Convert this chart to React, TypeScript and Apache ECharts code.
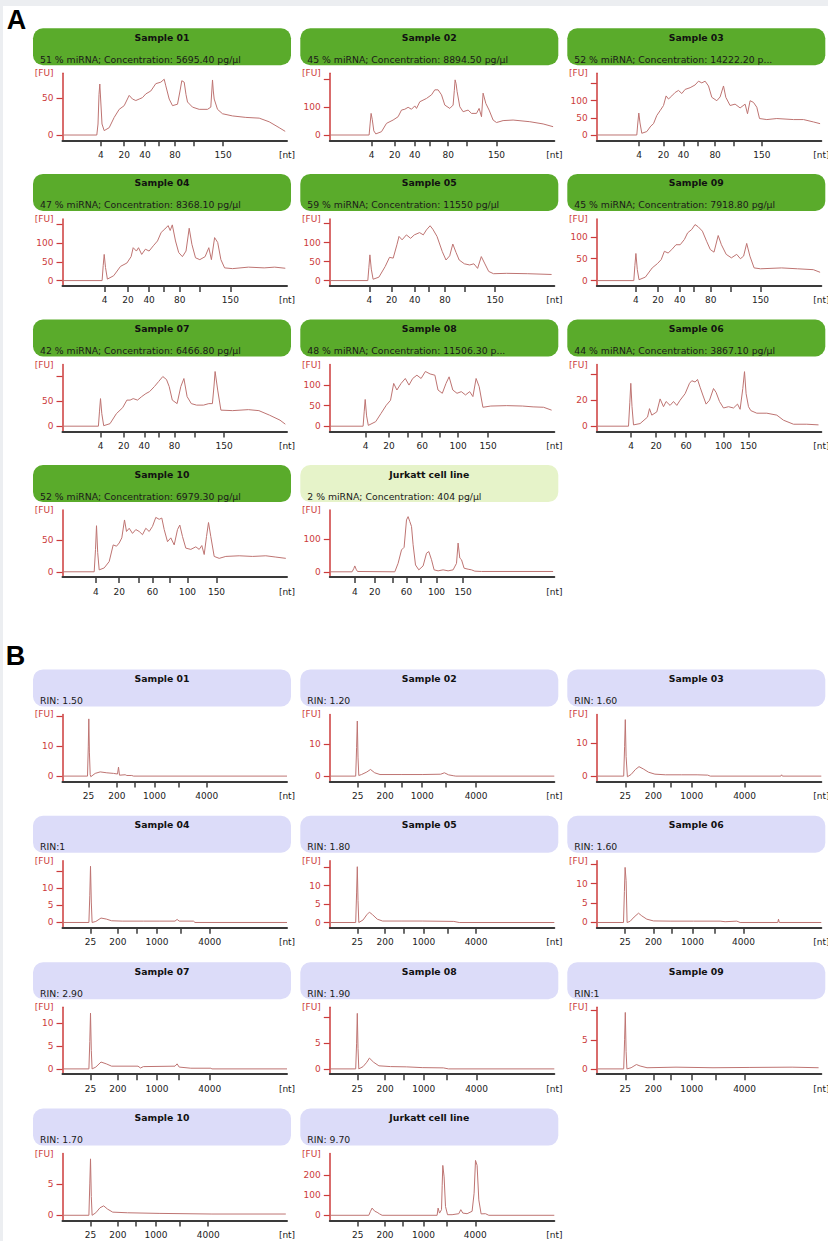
import React, { useEffect, useRef } from 'react';
import * as echarts from 'echarts';

// ---------- Section A (small RNA assay) ----------
const A_TITLES = ['Sample 01', 'Sample 02', 'Sample 03', 'Sample 04', 'Sample 05', 'Sample 09', 'Sample 07', 'Sample 08', 'Sample 06', 'Sample 10', 'Jurkatt cell line'];
const A_SUBTITLES = [
  '51 % miRNA; Concentration: 5695.40 pg/µl',
  '45 % miRNA; Concentration: 8894.50 pg/µl',
  '52 % miRNA; Concentration: 14222.20 p...',
  '47 % miRNA; Concentration: 8368.10 pg/µl',
  '59 % miRNA; Concentration: 11550 pg/µl',
  '45 % miRNA; Concentration: 7918.80 pg/µl',
  '42 % miRNA; Concentration: 6466.80 pg/µl',
  '48 % miRNA; Concentration: 11506.30 p...',
  '44 % miRNA; Concentration: 3867.10 pg/µl',
  '52 % miRNA; Concentration: 6979.30 pg/µl',
  '2 % miRNA; Concentration: 404 pg/µl',
];
const A_X_LABELS_1 = ['4', '20', '40', '', '80', '', '150'];
const A_X_LABELS_2 = ['4', '20', '', '60', '', '100', '150'];
const A_X_LABEL_SET = [1, 1, 1, 1, 1, 1, 1, 2, 2, 2, 2];
const A_X_TICKS = [
  [38.4, 61.7, 82.4, 96, 112.4, 131.7, 160.7],
  [41.7, 65, 85, 100, 118.4, 137.4, 166.7],
  [42.3, 66.6, 86.6, 101, 118.3, 137.3, 165],
  [42.2, 65.5, 86.6, 101.4, 117.2, 137.3, 167.9],
  [39.6, 61.8, 85, 98.7, 115.1, 134.6, 165.3],
  [39.1, 61.2, 82.9, 97.1, 114, 134.1, 163.7],
  [38, 61.2, 81.8, 96.1, 111.9, 132, 161.6],
  [35.9, 59.1, 77.6, 92.4, 109.8, 128.3, 158.4],
  [34.3, 59.3, 78.3, 89.3, 108.3, 126.7, 151.7],
  [33.4, 56.7, 76.7, 90, 107.4, 125, 154],
  [25, 45, 62.7, 76.7, 91, 106.7, 133.3],
];
const A_Y_MAX = [84.1, 222.7, 180, 165, 162, 141, 123, 150, 47.5, 96.4, 189];
const A_Y_MIN = [-7.2, -19.1, -15.5, -14.2, -14, -12.1, -10.6, -12.9, -4.1, -8.3, -16.2];
const A_Y_LABELED = [[0, 50], [0, 100], [0, 50, 100], [0, 50, 100], [0, 50, 100], [0, 50, 100], [0, 50], [0, 50, 100], [0, 20], [0, 50], [0, 100]];
const A_Y_TOP_TICK = [null, 200, 150, 150, 150, null, 100, null, 40, null, null];

// traces: [migration time units, FU]
const A_S01 = [[0,0],[34.3,0],[35.5,15],[36.5,55],[37.3,69.5],[38.3,45],[39.5,15],[41.7,6],[46.7,10],[51.7,24],[56.7,35],[61.7,40],[66.7,54],[70,49],[73.3,47],[76.7,49],[80,51],[83.3,56],[88.3,60],[93.3,70],[98.3,72],[101.7,76],[103.3,67],[106.7,49],[110,40],[115,42],[117.5,60],[119.3,74],[121.7,72],[123.5,55],[125,45],[130,38],[136.7,35],[145,35],[148.3,38],[149.3,60],[150,75],[150.8,60],[151.7,49],[155,35],[160,29],[170,26],[183.3,24],[196.7,23],[206.7,18],[216.7,10],[222.7,5]];
const A_S02 = [[0,0],[39.3,0],[40.3,40],[41.3,78],[42.5,55],[44,15],[46,4],[51.7,12],[56.7,42],[63.3,54],[68.3,66],[71.7,90],[75,93],[78.3,100],[81.7,93],[85,105],[86.7,96],[90,120],[96.7,132],[101.7,145],[105,163],[108.3,163],[111.7,145],[115,108],[120,96],[123.3,108],[124.5,160],[125.3,199],[126.3,185],[127.3,157],[130,102],[133.3,84],[138.3,90],[141.7,78],[146.7,78],[149.3,96],[151.7,66],[153.3,151],[156,114],[159.3,90],[163.3,54],[166.7,45],[173.3,52],[183.3,54],[200,48],[213.3,40],[223.3,30]];
const A_S03 = [[0,0],[40,0],[41,35],[42,64],[43.2,35],[45,5],[50,10],[54,26],[56.7,33],[60,57],[63.3,71],[66.7,86],[69.3,114],[71.7,105],[75,114],[78.3,124],[81.7,130],[85,121],[88.3,133],[93.3,138],[98.3,146],[101.7,157],[105,152],[108.3,157],[111.7,143],[115,110],[120,100],[123.3,111],[126.7,143],[129,110],[133.3,86],[138.3,90],[143.3,79],[148.3,90],[150.7,62],[153.3,100],[156.7,95],[160,81],[162.7,48],[170,45],[180,48],[196.7,45],[206.7,45],[216.7,38],[223.3,33]];
const A_S04 = [[0,0],[39.6,0],[40.7,40],[41.7,70],[43,35],[44.9,4],[51.2,13],[58,38],[64.4,47],[68.6,64],[70.7,88],[73.9,79],[76,88],[79.2,70],[82.9,84],[86.6,79],[90.8,93],[95,106],[98.7,129],[102.4,138],[105.6,147],[107.7,134],[109.8,149],[113,106],[116.2,75],[119.9,64],[123.5,79],[126.7,140],[129.4,97],[133,61],[137.3,56],[142.6,64],[146.3,88],[148.9,56],[152.1,115],[155.2,102],[158.4,56],[162.1,34],[170,32],[185.9,36],[201.7,34],[212.2,36],[222.8,33]];
const A_S05 = [[0,0],[38,0],[39.1,35],[40.1,67.5],[41.5,30],[43.3,3.5],[49.1,9],[55.4,37],[59.7,61],[63.4,59],[67.1,94],[69.2,116],[72.3,107],[76.6,120],[80.8,111],[84.5,120],[89.8,126],[93.5,120],[96.6,133],[100.3,144],[103,135],[107.2,116],[112.5,76],[116.2,54],[119.9,65],[123,96],[126.2,74],[129.4,54],[134.6,44],[139.9,41],[144.1,44],[147.8,32],[151.5,63],[154.7,46],[158.9,24],[163.7,18],[176.9,19],[198,18],[221.8,16]];
const A_S09 = [[0,0],[37,0],[38.1,35],[39.1,62],[40.5,25],[42.2,2],[48.6,8],[55.4,29],[60.7,39],[64.4,48],[67.6,67],[71.3,63],[75,71],[79.2,82],[83.4,82],[87.6,94],[90.8,109],[95,117],[98.2,128],[101.4,123],[105.6,113],[109.8,90],[113.5,71],[117.2,65],[121.4,103],[124.6,82],[129.4,60],[134.6,52],[139.9,60],[143.6,50],[146.8,56],[149.9,85],[153.1,56],[157.3,29],[163.7,27],[184.8,29],[200.6,27],[216.5,25],[223.3,19]];
const A_S07 = [[0,0],[35.9,0],[37,30],[38,55],[39.3,25],[41.2,1],[47.5,5],[53.9,25],[60.2,37],[64.4,52],[67.6,52],[70.7,55],[75,52],[79.2,59],[83.4,65],[87.1,69],[91.9,79],[96.1,89],[100.3,99],[104,93],[106.7,79],[109.8,52],[114.6,45],[118.3,79],[121.4,95],[124.6,59],[128.8,45],[134.1,42],[141,42],[146.3,45],[149.9,45],[151.5,80],[152.6,109],[155.2,72],[158.4,32],[170,31],[185.9,33],[196.4,31],[207,22],[217.5,12],[222.8,4]];
const A_S08 = [[0,0],[33.3,0],[34.4,35],[35.4,65],[36.8,25],[38.5,2],[45.9,11],[51.2,31],[56.5,51],[60.7,63],[63.9,104],[67.1,88],[71.3,104],[75.5,116],[79.2,100],[82.9,116],[87.1,124],[91.3,116],[95.6,133],[100.3,127],[105.1,124],[108.2,88],[112.5,80],[116.2,104],[119.3,120],[123,88],[127.2,80],[131.5,84],[135.7,76],[139.9,84],[143.1,72],[146.3,116],[149.4,96],[153.1,46],[161,49],[176.9,50],[192.7,49],[203.3,47],[213.8,46],[221.8,39]];
const A_S06 = [[0,0],[31.7,0],[33,18],[34,33],[35.2,15],[36.7,1],[43.3,2],[50.7,7],[52.7,13.5],[55,8.5],[60,11],[63.3,21],[66.7,15],[69.3,19],[73.3,16],[76.7,19],[80,16],[83.3,20],[88.3,25],[92.7,33],[95,35],[98.3,34],[100.7,36],[103.3,30],[106,24],[109.3,17],[112.7,20],[116.7,29],[119.3,26],[122.7,19],[126.7,14],[131.7,15],[136.7,14],[140.7,17],[143.3,13],[146,29],[147.7,42],[149.3,25],[151.7,15],[154,12],[160,10],[170,10],[180,8.5],[186.7,4.6],[196.7,1.5],[210,1.5],[221.7,1]];
const A_S10 = [[0,0],[31.7,0],[33,35],[34,72],[35.2,30],[36.7,3],[41.7,6],[46.7,16],[50.7,42],[54,40],[56.7,45],[59.3,53],[62,81],[64,63],[66.7,68],[70,60],[73.3,66],[76.7,63],[80,58],[83.3,68],[86.7,63],[90,71],[93.3,85],[96.7,82],[99.3,84],[101.7,66],[105,47],[108.3,53],[111.7,42],[115,66],[117.3,73],[120,55],[123.3,37],[128.3,35],[133.3,39],[136.7,35],[139.3,41],[141.7,27],[144,55],[146,77],[148.3,55],[151.7,24],[156.7,21],[163.3,24],[176.7,25],[190,24],[203.3,25],[213.3,23],[223.3,21]];
const A_JUR = [[0,0],[22.3,0],[24,10],[25,18],[26.3,8],[27.7,1],[65,0],[68.3,26],[71.7,67],[74.3,75],[76.7,159],[78.3,169],[80,154],[81.7,139],[83.3,83],[85.7,21],[89,6],[93.3,18],[96.7,57],[99,62],[101.7,37],[104.3,6],[108.3,3],[113.3,6],[118.3,3],[123.3,6],[126.7,26],[128.3,88],[130,42],[131.7,37],[134.3,11],[138.3,8],[141.7,6],[145,2],[151.7,1],[223.3,1]];
const A_TRACES = [A_S01, A_S02, A_S03, A_S04, A_S05, A_S09, A_S07, A_S08, A_S06, A_S10, A_JUR];

// ---------- Section B (total RNA assay) ----------
const B_TITLES = ['Sample 01', 'Sample 02', 'Sample 03', 'Sample 04', 'Sample 05', 'Sample 06', 'Sample 07', 'Sample 08', 'Sample 09', 'Sample 10', 'Jurkatt cell line'];
const B_SUBTITLES = ['RIN: 1.50', 'RIN: 1.20', 'RIN: 1.60', 'RIN:1', 'RIN: 1.80', 'RIN: 1.60', 'RIN: 2.90', 'RIN: 1.90', 'RIN:1', 'RIN: 1.70', 'RIN: 9.70'];
const B_X_LABELS = ['25', '200', '', '1000', '', '4000'];
const B_X_TICKS = [
  [26, 54.3, 72, 92, 116, 144.3],
  [28, 55.4, 72.3, 92.4, 116.2, 146.3],
  [28.5, 56.5, 74.4, 95, 118.8, 147.8],
  [28, 55.4, 73.9, 94.5, 118.3, 147.3],
  [27.5, 55.4, 73.9, 94, 117.7, 146.3],
  [28.3, 56.7, 75, 95.7, 118.3, 146.7],
  [28, 55.4, 73.9, 94.5, 116.7, 147.3],
  [27.5, 55.4, 73.9, 94, 116.7, 146.8],
  [28.5, 56.5, 74.4, 95, 118.8, 147.8],
  [28, 55.4, 72.9, 93.5, 117.2, 145.7],
  [28, 55.2, 72.6, 93.7, 117, 145.5],
];
const B_Y_MAX = [20.6, 19.5, 18.9, 18.1, 16.7, 15.9, 13.5, 12.0, 10.6, 9.84, 308];
const B_Y_MIN = [-1.77, -1.67, -1.62, -1.56, -1.43, -1.37, -1.16, -1.03, -0.91, -0.85, -26.5];
const B_Y_LABELED = [[0, 10], [0, 10], [0, 10], [0, 5, 10], [0, 5, 10], [0, 5, 10], [0, 5, 10], [0, 5], [0, 5], [0, 5], [0, 100, 200]];
const B_Y_TOP_TICK = [20, null, null, 15, 15, 15, null, 10, 10, null, null];

const B_S01 = [[0,0],[25,0],[25.8,10],[26.3,19.1],[26.9,8],[27.7,0.5],[28.3,-0.2],[32.7,0.9],[37.7,1.4],[44.3,1.1],[51,0.9],[55,0.7],[56,3],[57,0.3],[62.7,0.45],[64.3,0.2],[69.3,0.2],[71,0],[224.5,0]];
const B_S02 = [[0,0],[25.9,0],[26.8,9],[27.5,17.4],[28.2,6],[29,0.2],[31.7,0.5],[37,1.3],[40.7,2.1],[44.9,1.05],[50.2,0.5],[71.3,0.5],[92.4,0.5],[110.9,0.6],[114.6,1.05],[118.8,0.4],[124,0.1],[126,0],[224.5,0]];
const B_S03 = [[0,0],[26.9,0],[27.8,9],[28.5,17.3],[29.3,6],[30.6,-0.2],[34.3,0.5],[38.5,2],[42.2,2.9],[46.5,2.2],[51.7,1.2],[58.1,0.6],[68.6,0.4],[84.5,0.4],[100.3,0.4],[110.9,0.3],[113.5,0],[184,0],[184.8,0.4],[185.6,0],[224.5,0]];
const B_S04 = [[0,0],[26.4,0],[27.3,8],[28,16.5],[28.8,6],[29.6,0],[33.3,0.3],[38.5,1.3],[43.8,1],[49.1,0.5],[59.7,0.4],[80.8,0.4],[96.6,0.4],[112.5,0.4],[114.6,0.9],[116.7,0.4],[130.9,0.4],[132.5,0],[224.5,0]];
const B_S05 = [[0,0],[25.9,0],[26.8,8],[27.5,15.1],[28.2,6],[29,0],[33.3,0.7],[37,2.1],[39.6,2.8],[42.8,2.1],[47.5,0.9],[52.8,0.4],[71.3,0.4],[92.4,0.4],[124,0.3],[129.4,0],[224.5,0]];
const B_S06 = [[0,0],[26.7,0],[27.6,8],[28.3,14.2],[29.3,10.8],[30.3,0],[33.3,0.3],[37.3,1.4],[41.7,2.4],[45,1.7],[50,0.85],[56.7,0.4],[73.3,0.35],[96.7,0.35],[123.3,0.35],[128.3,0.2],[140,0.35],[143.3,0],[181,0],[181.7,0.85],[182.5,0],[224.5,0]];
const B_S07 = [[0,0],[26.4,0],[27.3,6],[28,12.2],[28.8,4],[29.6,0],[33.3,0.4],[38.5,1.5],[43.8,1.1],[49.1,0.6],[75.5,0.6],[78,0.2],[80.8,0.5],[112.5,0.6],[114.6,1.1],[116.7,0.4],[128.3,0.15],[148.4,0.15],[149.4,0],[224.5,0]];
const B_S08 = [[0,0],[25.9,0],[26.8,5],[27.5,10.8],[28.2,4],[29,0],[33.3,0.45],[37,1.3],[39.6,2.1],[43.8,1.3],[49.1,0.6],[60.7,0.45],[76.6,0.4],[92.4,0.25],[113.5,0.2],[118.8,0],[224.5,0]];
const B_S09 = [[0,0],[26.9,0],[27.8,5],[28.5,9.7],[29.3,3],[30.1,0],[34.3,0.2],[39.6,0.75],[43.3,0.5],[50.2,0.2],[79.2,0.3],[116.2,0.2],[153.1,0.25],[195.3,0.3],[221.8,0.2]];
const B_S10 = [[0,0],[26.4,0],[27.3,5],[28,9],[28.8,3],[29.6,0],[33.3,0.4],[37.5,1.2],[41.2,1.5],[44.9,1],[50.2,0.5],[64.9,0.4],[96.6,0.3],[149.4,0.2],[223.3,0.2]];
const B_JUR = [[0,0],[39,0],[40.7,20],[42.3,36],[45,20],[47.3,15],[49.7,7],[52.3,0],[107.3,0],[108.3,36],[109.7,11],[111.7,28],[112.4,150],[113,249],[114.3,192],[115.7,44],[117.7,3],[122.3,3],[129,8],[131,28],[133,11],[137.3,8],[142.3,20],[144.3,110],[145.7,274],[147.3,249],[149,77],[151.3,7],[155.7,8],[159,0],[224.5,0]];
const B_TRACES = [B_S01, B_S02, B_S03, B_S04, B_S05, B_S06, B_S07, B_S08, B_S09, B_S10, B_JUR];

const X_MAX = 224.5;

// ---------- layout / style ----------
const FONT = '"DejaVu Sans", Verdana, sans-serif';
const COL_X = [33, 300.3, 567.3];
const A_ROW_Y = [28.3, 173.9, 319.5, 465.1];
const B_ROW_Y = [669.4, 815.8, 962.2, 1108.6];
const BOX_W = 258;
const BOX_H = 37;
const GREEN = '#5aab2b';
const LIGHT_GREEN = '#e6f3c9';
const LAVENDER = '#dcdcf9';
const RED = '#cc3b3b';
const TRACE = '#be7472';

function near(a: number, b: number) {
  return Math.abs(a - b) < 1e-6;
}

export default function App() {
  const ref = useRef<HTMLDivElement>(null);
  useEffect(() => {
    if (!ref.current) return;
    const chart = echarts.init(ref.current, undefined, { renderer: 'svg' });

    const grids: any[] = [];
    const xAxes: any[] = [];
    const yAxes: any[] = [];
    const series: any[] = [];
    const graphics: any[] = [
      { type: 'rect', shape: { x: 0, y: 0, width: 828, height: 6 }, style: { fill: '#eceef1' }, silent: true },
      { type: 'rect', shape: { x: 0, y: 0, width: 3, height: 1241 }, style: { fill: '#eceef1' }, silent: true },
      { type: 'text', x: 16.5, y: 19.5, style: { text: 'A', fontSize: 27, fontWeight: 'bold', fontFamily: 'Liberation Sans, Arial, sans-serif', fill: '#000', align: 'center', verticalAlign: 'middle' } },
      { type: 'text', x: 15.5, y: 656, style: { text: 'B', fontSize: 27, fontWeight: 'bold', fontFamily: 'Liberation Sans, Arial, sans-serif', fill: '#000', align: 'center', verticalAlign: 'middle' } },
    ];

    const addPanel = (
      left: number, top: number, fill: string, title: string, sub: string,
      trace: number[][], xTicks: number[], xLabels: string[],
      yMin: number, yMax: number, yLabeled: number[], yTop: number | null,
    ) => {
      const idx = grids.length;
      graphics.push({ type: 'rect', shape: { x: left, y: top, width: BOX_W, height: BOX_H, r: 10 }, style: { fill }, silent: true });
      graphics.push({ type: 'text', x: left + BOX_W / 2, y: top + 9, style: { text: title, fontSize: 9.3, fontWeight: 'bold', fontFamily: FONT, fill: '#111', align: 'center', verticalAlign: 'middle' } });
      graphics.push({ type: 'text', x: left + 7, y: top + 31, style: { text: sub, fontSize: 9.3, fontFamily: FONT, fill: '#1a1a1a', align: 'left', verticalAlign: 'middle' } });

      grids.push({ left: left + 29.5, top: top + 45, width: X_MAX, height: 67, containLabel: false, outerBoundsMode: 'none' });

      const labeledX = xTicks.filter((_, i) => xLabels[i] !== '');
      xAxes.push({
        type: 'value', gridIndex: idx, min: 0, max: X_MAX,
        axisLine: { show: true, onZero: false, lineStyle: { color: '#3a3a3a', width: 2 } },
        axisTick: { show: true, customValues: xTicks, length: 6, lineStyle: { color: '#3a3a3a', width: 1.5 } },
        axisLabel: {
          show: true, customValues: [...labeledX, X_MAX], margin: 10, fontSize: 9, fontFamily: FONT, color: '#222',
          formatter: (v: number) => {
            if (near(v, X_MAX)) return '[nt]';
            const i = xTicks.findIndex((t) => near(t, v));
            return i >= 0 ? xLabels[i] : '';
          },
        },
        splitLine: { show: false },
      });

      const yTicks = yTop === null ? yLabeled : [...yLabeled, yTop];
      yAxes.push({
        type: 'value', gridIndex: idx, min: yMin, max: yMax,
        axisLine: { show: true, onZero: false, lineStyle: { color: RED, width: 1.5 } },
        axisTick: { show: true, customValues: yTicks, length: 6, lineStyle: { color: RED, width: 1.2 } },
        axisLabel: {
          show: true, customValues: [...yLabeled, yMax], margin: 9, fontSize: 9, fontFamily: FONT, color: RED,
          formatter: (v: number) => (near(v, yMax) ? '[FU]' : String(v)),
        },
        splitLine: { show: false },
      });

      series.push({
        type: 'line', xAxisIndex: idx, yAxisIndex: idx, data: trace,
        showSymbol: false, symbol: 'none', silent: true, clip: true,
        lineStyle: { color: TRACE, width: 1 },
      });
    };

    A_TRACES.forEach((trace, i) => {
      const r = Math.floor(i / 3);
      const c = i % 3;
      addPanel(
        COL_X[c], A_ROW_Y[r], i === 10 ? LIGHT_GREEN : GREEN, A_TITLES[i], A_SUBTITLES[i],
        trace, A_X_TICKS[i], A_X_LABEL_SET[i] === 1 ? A_X_LABELS_1 : A_X_LABELS_2,
        A_Y_MIN[i], A_Y_MAX[i], A_Y_LABELED[i], A_Y_TOP_TICK[i],
      );
    });
    B_TRACES.forEach((trace, i) => {
      const r = Math.floor(i / 3);
      const c = i % 3;
      addPanel(
        COL_X[c], B_ROW_Y[r], LAVENDER, B_TITLES[i], B_SUBTITLES[i],
        trace, B_X_TICKS[i], B_X_LABELS,
        B_Y_MIN[i], B_Y_MAX[i], B_Y_LABELED[i], B_Y_TOP_TICK[i],
      );
    });

    chart.setOption({
      animation: false,
      backgroundColor: '#ffffff',
      grid: grids,
      xAxis: xAxes,
      yAxis: yAxes,
      series,
      graphic: { elements: graphics },
    });
    return () => chart.dispose();
  }, []);

  return <div ref={ref} style={{ position: 'absolute', left: 0, top: 0, width: 828, height: 1241 }} />;
}
